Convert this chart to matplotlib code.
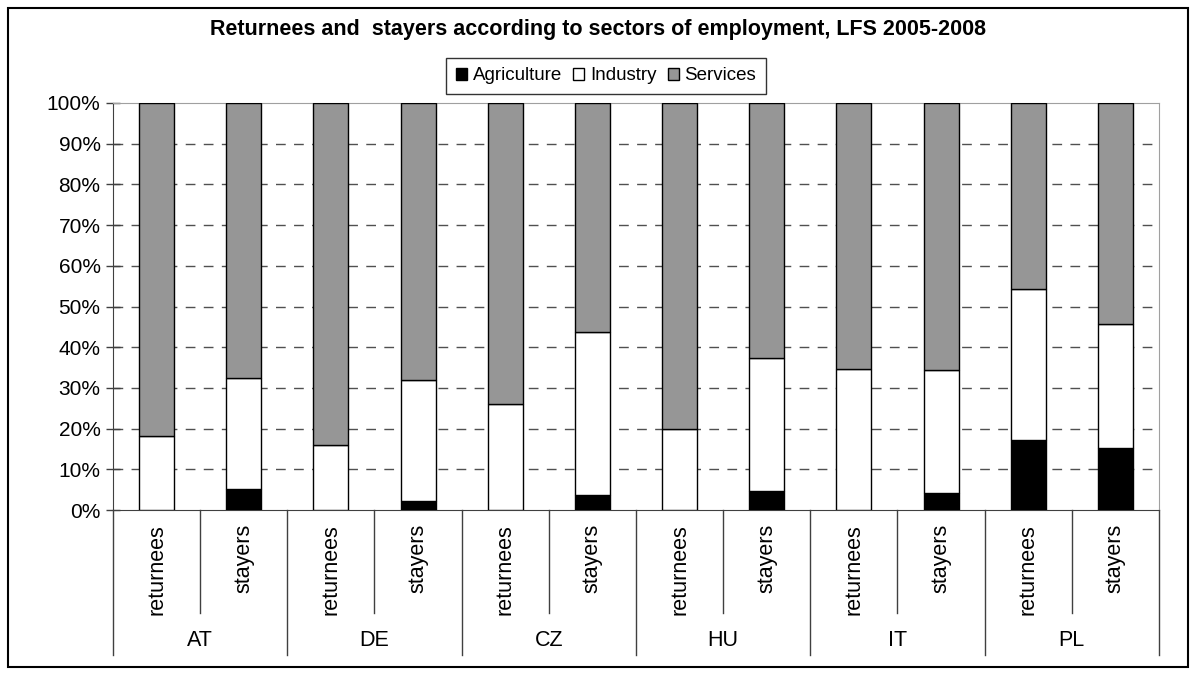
import matplotlib
matplotlib.use("Agg")
import matplotlib.pyplot as plt
import numpy as np
from matplotlib.patches import Rectangle

plt.rcParams['font.family'] = ['Liberation Sans', 'DejaVu Sans']

# data (shares in %)
countries = ['AT', 'DE', 'CZ', 'HU', 'IT', 'PL']
groups = ['returnees', 'stayers']
agriculture = [0, 5.2, 0, 2.2, 0, 3.8, 0, 4.7, 0, 4.1, 17.1, 15.3]
industry = [18.1, 27.3, 15.9, 29.7, 26.0, 39.9, 19.9, 32.6, 34.7, 30.3, 37.2, 30.4]
services = [81.9, 67.5, 84.1, 68.1, 74.0, 56.3, 80.1, 62.7, 65.3, 65.6, 45.7, 54.3]

W, H = 1197, 675
fig = plt.figure(figsize=(W / 100, H / 100), dpi=100)
ax = fig.add_axes([113 / W, 1 - 510 / H, (1159 - 113) / W, (510 - 103) / H])

x = np.arange(len(agriculture))
agri = np.array(agriculture)
ind = np.array(industry)
serv = np.array(services)
bw = 0.4
ax.bar(x, agri, bw, color='black', edgecolor='black', linewidth=1, label='Agriculture', zorder=3)
ax.bar(x, ind, bw, bottom=agri, color='white', edgecolor='black', linewidth=1, label='Industry', zorder=3)
ax.bar(x, serv, bw, bottom=agri + ind, color='#969696', edgecolor='black', linewidth=1, label='Services', zorder=3)

ax.set_xlim(-0.5, len(x) - 0.5)
ax.set_ylim(0, 100)
ax.set_yticks(np.arange(0, 101, 10))
ax.set_yticklabels(['%d%%' % v for v in range(0, 101, 10)], fontsize=15)
ax.tick_params(axis='y', direction='inout', length=10, width=1, color='#404040', pad=4)
ax.set_xticks([])
for v in range(10, 100, 10):
    ax.axhline(v, color='#505050', lw=1, ls=(0, (7, 6)), zorder=1)

ax.spines['left'].set_color('#404040')
ax.spines['bottom'].set_color('#404040')
ax.spines['top'].set_color('#a0a0a0')
ax.spines['right'].set_color('#a0a0a0')

# category axis with two levels
tr = ax.get_xaxis_transform()
inner = -103 / 407
outer = -145 / 407
for i in range(len(x) + 1):
    b = i - 0.5
    depth = outer if i % 2 == 0 else inner
    ax.plot([b, b], [0, depth], transform=tr, color='#404040', lw=1, clip_on=False)
for i in range(len(x)):
    ax.text(i, -14 / 407, groups[i % 2], transform=tr, rotation=90,
            ha='center', va='top', fontsize=15.5)
for j, c in enumerate(countries):
    ax.text(2 * j + 0.5, -131 / 407, c, transform=tr, ha='center', va='center', fontsize=15.5)

fig.text(0.5, 1 - 30 / H, 'Returnees and  stayers according to sectors of employment, LFS 2005-2008',
         ha='center', va='center', fontsize=15.5, fontweight='bold')

leg = fig.legend(loc='center', bbox_to_anchor=(606 / W, 1 - 76 / H), ncol=3, fontsize=13.5,
                 frameon=True, fancybox=False, handlelength=0.6, handleheight=0.6,
                 handletextpad=0.3, columnspacing=0.6, borderpad=0.5)
leg.get_frame().set_edgecolor('black')
leg.get_frame().set_linewidth(1)

fig.patches.append(Rectangle((8 / W, 8 / H), (1188 - 8) / W, (667 - 8) / H, transform=fig.transFigure,
                             fill=False, edgecolor='black', lw=1.5))

fig.savefig('out.png', dpi=100)
